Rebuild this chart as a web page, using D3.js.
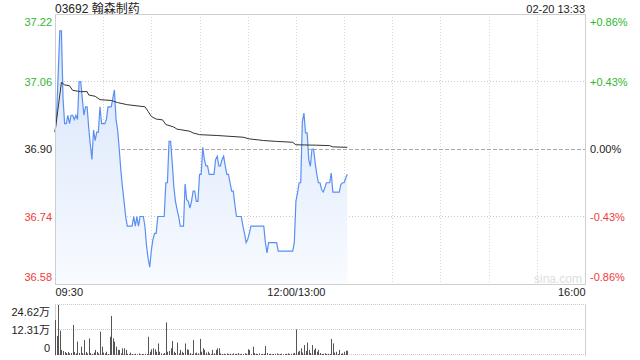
<!DOCTYPE html>
<html>
<head>
<meta charset="utf-8">
<script src="https://cdn.jsdelivr.net/npm/d3@7"></script>
<style>
    body { margin: 0; background: #fff; }
    svg text { font-family: "Liberation Sans", Arial, "Noto Sans CJK SC", sans-serif; }
</style>
</head>
<body>
<div class="chart-wrapper"></div>
<script>
// quote header
var stockTitle = "03692 翰森制药";
var stampText = "02-20 13:33";
var prevClose = 36.90;

// tick labels
var priceTicks = [37.22, 37.06, 36.90, 36.74, 36.58];
var pctTicks = ["+0.86%", "+0.43%", "0.00%", "-0.43%", "-0.86%"];
var timeTicks = [0, 150, 330];
var timeLabels = ["09:30", "12:00/13:00", "16:00"];
var volTicks = [24.62, 12.31, 0];
var volLabels = ["24.62万", "12.31万", "0"];

// minute prices, 09:30 onward (lunch joined at index 150)
var prices = [
    36.94, 36.98, 37.08, 37.18, 37.18, 37.02, 36.96, 36.96, 36.98, 36.96,
    36.98, 36.98, 36.97, 36.98, 36.97, 37.06, 37.06, 37.02, 36.98, 37.00,
    37.00, 36.95, 36.91, 36.875, 36.945, 36.92, 36.94, 36.94, 37.00, 36.96,
    36.96, 36.96, 36.97, 37.00, 37.00, 37.00, 37.02, 37.04, 36.97, 36.945,
    36.90, 36.85, 36.81, 36.776, 36.74, 36.717, 36.717, 36.717, 36.717, 36.74,
    36.717, 36.74, 36.717, 36.74, 36.74, 36.74, 36.717, 36.67, 36.64, 36.62,
    36.66, 36.686, 36.70, 36.70, 36.74, 36.74, 36.74, 36.74, 36.74, 36.82,
    36.82, 36.918, 36.918, 36.867, 36.81, 36.776, 36.757, 36.74, 36.717, 36.717,
    36.717, 36.817, 36.78, 36.776, 36.76, 36.776, 36.80, 36.80, 36.776, 36.776,
    36.84, 36.84, 36.904, 36.875, 36.86, 36.86, 36.84, 36.84, 36.84, 36.84,
    36.875, 36.883, 36.86, 36.86, 36.875, 36.883, 36.86, 36.84, 36.84, 36.82,
    36.80, 36.80, 36.768, 36.74, 36.74, 36.74, 36.74, 36.717, 36.70, 36.678,
    36.686, 36.70, 36.717, 36.717, 36.717, 36.717, 36.717, 36.717, 36.717, 36.717,
    36.717, 36.678, 36.654, 36.678, 36.678, 36.678, 36.678, 36.678, 36.678, 36.658,
    36.658, 36.658, 36.658, 36.658, 36.658, 36.658, 36.658, 36.658, 36.658, 36.678,
    36.776, 36.796, 36.82, 36.82, 36.965, 36.985, 36.938, 36.938, 36.875, 36.859,
    36.90, 36.90, 36.867, 36.84, 36.82, 36.82, 36.804, 36.798, 36.808, 36.82,
    36.82, 36.82, 36.843, 36.798, 36.798, 36.798, 36.798, 36.798, 36.816, 36.82,
    36.82, 36.831, 36.84
];

// average price line, read at its turning points
var avgMinutes = [0, 4, 6, 9, 11, 16, 20, 21, 25, 28, 35, 39, 45, 56, 58, 60, 63, 67, 69, 74, 76, 78, 84, 86, 90, 101, 117, 121, 130, 138, 148, 150, 163, 171, 173, 182];
var avgPrices = [36.94, 37.058, 37.052, 37.05, 37.039, 37.036, 37.036, 37.028, 37.025, 37.017, 37.015, 37.01, 37.005, 37.00, 36.989, 36.977, 36.971, 36.969, 36.958, 36.952, 36.947, 36.946, 36.942, 36.938, 36.934, 36.932, 36.928, 36.924, 36.92, 36.918, 36.916, 36.91, 36.909, 36.908, 36.905, 36.904];

// minute volume, in 万 shares
var volumes = [
    17.2, 9.4, 24.62, 12.0, 2.5, 2.0, 1.5, 1.0, 1.5, 0.8,
    1.0, 14.8, 1.5, 0.8, 6.6, 1.0, 4.1, 1.0, 7.4, 1.5,
    0.8, 8.2, 1.0, 0.5, 1.2, 2.5, 1.5, 0.8, 11.5, 4.1,
    1.2, 0.8, 1.6, 0.5, 9.0, 19.2, 8.2, 6.6, 4.1, 2.5,
    2.5, 0.8, 3.3, 3.3, 2.5, 0.6, 0.4, 1.2, 0.5, 0.3,
    0.6, 0.4, 0.8, 0.3, 0.5, 0.4, 0.6, 0.5, 9.0, 1.6,
    2.8, 3.3, 2.8, 1.6, 5.7, 1.6, 0.8, 0.5, 1.0, 16.1,
    1.6, 2.0, 3.3, 6.9, 1.6, 1.0, 6.1, 0.8, 2.5, 1.6,
    1.0, 5.7, 2.8, 2.5, 1.0, 0.5, 7.4, 0.8, 1.2, 0.8,
    7.9, 1.6, 3.3, 2.5, 1.2, 1.6, 0.8, 0.5, 2.5, 0.8,
    2.5, 3.3, 3.3, 0.8, 0.5, 0.6, 0.4, 0.8, 0.5, 0.6,
    0.4, 0.8, 0.5, 0.6, 1.0, 0.4, 0.6, 0.5, 0.8, 0.6,
    2.8, 2.5, 0.5, 4.1, 1.0, 0.6, 0.5, 0.8, 0.4, 0.5,
    0.6, 4.4, 1.0, 0.5, 0.6, 0.4, 0.5, 0.6, 0.8, 0.4,
    0.5, 0.6, 0.4, 0.5, 0.6, 0.8, 0.5, 0.6, 0.8, 1.0,
    12.6, 1.6, 2.0, 3.3, 1.2, 4.9, 2.0, 6.1, 2.5, 1.0,
    4.9, 2.5, 3.3, 1.6, 2.5, 1.0, 0.5, 0.6, 0.8, 0.5,
    0.6, 0.5, 7.9, 5.7, 1.2, 1.6, 0.5, 2.5, 0.6, 0.8,
    1.6, 2.1, 2.1
];

var upColor = "#2eb82e";
var downColor = "#f23a3a";
var flatColor = "#222";

var width = 640, height = 360;
var left = 55, right = 585;
var mainTop = 14, mainBottom = 284;
var volTop = 305, volBottom = 355;

var svg = d3.select(".chart-wrapper").append("svg")
    .attr("width", width)
    .attr("height", height);

var x = d3.scaleLinear().domain([0, 330]).range([left, right]);
var y = d3.scaleLinear().domain([36.58, 37.22]).range([mainBottom, mainTop]);
var yPct = d3.scaleOrdinal().domain(pctTicks).range(priceTicks.map(function (p) { return y(p); }));
var yVol = d3.scaleLinear().domain([0, 24.62]).range([volBottom, volTop]);

function tickColor(p) {
    if (Math.abs(p - prevClose) < 1e-6) return flatColor;
    return p > prevClose ? upColor : downColor;
}

// gradient for the area under the price line
var grad = svg.append("defs").append("linearGradient")
    .attr("id", "areaFill")
    .attr("gradientUnits", "userSpaceOnUse")
    .attr("x1", 0).attr("y1", mainTop).attr("x2", 0).attr("y2", mainBottom);
grad.append("stop").attr("offset", "0%").attr("stop-color", "#d4e2fa");
grad.append("stop").attr("offset", "100%").attr("stop-color", "#f8fbff");

// title row
svg.append("text")
    .attr("x", left).attr("y", 13)
    .attr("font-size", 12).attr("fill", "#222")
    .text(stockTitle);
svg.append("text")
    .attr("x", right).attr("y", 13)
    .attr("text-anchor", "end")
    .attr("font-size", 11).attr("fill", "#222")
    .text(stampText);

// vertical grid, every 30 minutes
svg.append("g").selectAll("line")
    .data(d3.range(30, 330, 30))
    .enter().append("line")
    .attr("x1", function (d) { return Math.round(x(d)) + 0.5; })
    .attr("x2", function (d) { return Math.round(x(d)) + 0.5; })
    .attr("y1", mainTop).attr("y2", mainBottom + 3)
    .attr("stroke", "#d6d6d6")
    .attr("stroke-dasharray", "1,2");

// horizontal grid
svg.append("g").selectAll("line")
    .data([37.06, 36.90, 36.74])
    .enter().append("line")
    .attr("x1", left).attr("x2", right)
    .attr("y1", function (d) { return Math.round(y(d)) + 0.5; })
    .attr("y2", function (d) { return Math.round(y(d)) + 0.5; })
    .attr("stroke", function (d) { return d === prevClose ? "#aaa" : "#c8c8c8"; })
    .attr("stroke-dasharray", function (d) { return d === prevClose ? "4,2" : "1,2"; });

// price area and line
var area = d3.area()
    .x(function (d, i) { return x(i); })
    .y0(mainBottom)
    .y1(function (d) { return y(d); });
var line = d3.line()
    .x(function (d, i) { return x(i); })
    .y(function (d) { return y(d); });

svg.append("path")
    .datum(prices)
    .attr("d", area)
    .attr("fill", "url(#areaFill)");
svg.append("path")
    .datum(prices)
    .attr("d", line)
    .attr("fill", "none")
    .attr("stroke", "#5a8ff2")
    .attr("stroke-width", 1.2);

// average line
var avgLine = d3.line()
    .x(function (d) { return x(d); })
    .y(function (d, i) { return y(avgPrices[i]); });
svg.append("path")
    .datum(avgMinutes)
    .attr("d", avgLine)
    .attr("fill", "none")
    .attr("stroke", "#333")
    .attr("stroke-width", 1);

// watermark
svg.append("text")
    .attr("x", right - 3).attr("y", 283)
    .attr("text-anchor", "end")
    .attr("font-size", 12).attr("fill", "#dedede")
    .text("sina.com");

// main frame
svg.append("rect")
    .attr("x", left + 0.5).attr("y", mainTop + 0.5)
    .attr("width", right - left).attr("height", mainBottom - mainTop)
    .attr("fill", "none").attr("stroke", "#cfcfcf");

// left price axis
var yAxis = d3.axisLeft(y).tickValues(priceTicks).tickSize(0).tickPadding(3)
    .tickFormat(d3.format(".2f"));
var gy = svg.append("g").attr("transform", "translate(" + left + ",0)").call(yAxis);
gy.select(".domain").remove();
gy.selectAll("text")
    .attr("font-size", 11)
    .attr("fill", function (d) { return tickColor(d); })
    .attr("dy", function (d, i) { return i === 0 ? "1.0em" : (i === priceTicks.length - 1 ? "-0.35em" : "0.32em"); });

// right percent axis
var yAxisR = d3.axisRight(yPct).tickValues(pctTicks).tickSize(0).tickPadding(5);
var gr = svg.append("g").attr("transform", "translate(" + right + ",0)").call(yAxisR);
gr.select(".domain").remove();
gr.selectAll("text")
    .attr("font-size", 11)
    .attr("fill", function (d, i) { return tickColor(priceTicks[i]); })
    .attr("dy", function (d, i) { return i === 0 ? "1.05em" : (i === pctTicks.length - 1 ? "-0.35em" : "0.32em"); });

// time axis
var xAxis = d3.axisBottom(x).tickValues(timeTicks).tickSize(0).tickPadding(4)
    .tickFormat(function (d, i) { return timeLabels[i]; });
var gx = svg.append("g").attr("transform", "translate(0," + mainBottom + ")").call(xAxis);
gx.select(".domain").remove();
gx.selectAll("text")
    .attr("font-size", 11)
    .attr("fill", "#222")
    .attr("text-anchor", function (d, i) { return i === 0 ? "start" : (i === timeTicks.length - 1 ? "end" : "middle"); });

// volume frame and grid
svg.append("g").selectAll("line")
    .data([volTop, (volTop + volBottom) / 2, volBottom])
    .enter().append("line")
    .attr("x1", left).attr("x2", right)
    .attr("y1", function (d) { return Math.round(d) - 0.5; })
    .attr("y2", function (d) { return Math.round(d) - 0.5; })
    .attr("stroke", "#c8c8c8")
    .attr("stroke-dasharray", "1,1");
svg.append("g").selectAll("line")
    .data([left, right])
    .enter().append("line")
    .attr("x1", function (d) { return d + 0.5; })
    .attr("x2", function (d) { return d + 0.5; })
    .attr("y1", volTop - 1).attr("y2", volBottom + 1)
    .attr("stroke", "#d0d0d0");

// volume bars
svg.append("g").selectAll("rect")
    .data(volumes)
    .enter().append("rect")
    .attr("x", function (d, i) { return Math.round(x(i)); })
    .attr("width", 1)
    .attr("y", function (d) { return yVol(d); })
    .attr("height", function (d) { return volBottom - yVol(d); })
    .attr("fill", "#555");

// volume axis
var vAxis = d3.axisLeft(yVol).tickValues(volTicks).tickSize(0).tickPadding(5)
    .tickFormat(function (d, i) { return volLabels[i]; });
var gv = svg.append("g").attr("transform", "translate(" + left + ",0)").call(vAxis);
gv.select(".domain").remove();
gv.selectAll("text")
    .attr("font-size", 11)
    .attr("fill", "#222")
    .attr("dy", function (d, i) { return i === 0 ? "0.95em" : (i === volTicks.length - 1 ? "-0.3em" : "0.32em"); });
</script>
</body>
</html>
